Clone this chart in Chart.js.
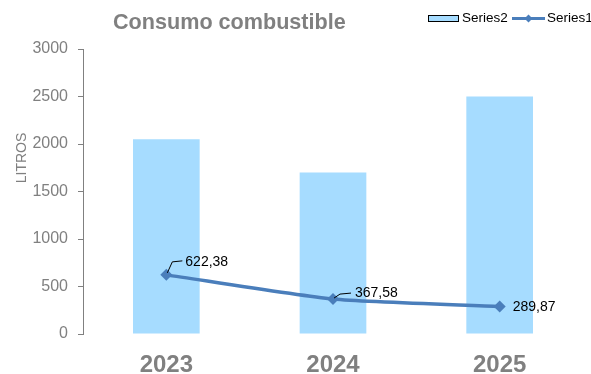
<!DOCTYPE html>
<html>
<head>
<meta charset="utf-8">
<script src="https://cdn.jsdelivr.net/npm/chart.js@4"></script>
<style>
  html, body { margin: 0; padding: 0; background: #fff; }
  #wrap { width: 591px; height: 374px; }
</style>
</head>
<body>
<div id="wrap"><canvas id="chart" width="591" height="374"></canvas></div>
<script>
const years = ["2023", "2024", "2025"];
const series2 = [2050, 1700, 2500];
const series1 = [622.38, 367.58, 289.87];
const yTicks = [0, 500, 1000, 1500, 2000, 2500, 3000];

const gray = "#808080";
const lineBlue = "#4A7EBB";
const barBlue = "#A6DCFF";
const font = "'Liberation Sans', Arial, sans-serif";

// title, axis title, legend, data labels with leader lines
const extras = {
  id: "extras",
  afterDraw(chart) {
    const ctx = chart.ctx;
    const meta = chart.getDatasetMeta(1);
    ctx.save();

    ctx.fillStyle = gray;
    ctx.font = "bold 21.6px " + font;
    ctx.textBaseline = "alphabetic";
    ctx.textAlign = "left";
    ctx.fillText("Consumo combustible", 113, 29);

    // y axis title
    ctx.save();
    ctx.translate(22, 158);
    ctx.rotate(-Math.PI / 2);
    ctx.textAlign = "center";
    ctx.textBaseline = "middle";
    ctx.font = "14px " + font;
    ctx.fillText("LITROS", 0, 0);
    ctx.restore();

    // legend
    ctx.fillStyle = barBlue;
    ctx.fillRect(428.5, 15.5, 30, 6);
    ctx.strokeStyle = "#000";
    ctx.lineWidth = 1;
    ctx.strokeRect(428.5, 15.5, 30, 6);
    ctx.fillStyle = "#000";
    ctx.font = "13.5px " + font;
    ctx.textBaseline = "middle";
    ctx.fillText("Series2", 462, 18.5);
    ctx.strokeStyle = lineBlue;
    ctx.lineWidth = 3;
    ctx.beginPath();
    ctx.moveTo(512, 18.5);
    ctx.lineTo(545, 18.5);
    ctx.stroke();
    ctx.fillStyle = lineBlue;
    ctx.beginPath();
    ctx.moveTo(528.5, 14.5);
    ctx.lineTo(532.5, 18.5);
    ctx.lineTo(528.5, 22.5);
    ctx.lineTo(524.5, 18.5);
    ctx.closePath();
    ctx.fill();
    ctx.fillStyle = "#000";
    ctx.fillText("Series1", 547, 18.5);

    // data labels
    ctx.font = "14px " + font;
    ctx.strokeStyle = "#000";
    ctx.lineWidth = 1;
    meta.data.forEach((pt, i) => {
      const label = series1[i].toFixed(2).replace(".", ",");
      const x = pt.x, y = pt.y;
      if (i === 0) {
        ctx.beginPath();
        ctx.moveTo(x + 1, y - 2);
        ctx.lineTo(x + 6, y - 13);
        ctx.lineTo(x + 16, y - 14);
        ctx.stroke();
        ctx.fillText(label, x + 19, y - 13);
      } else if (i === 1) {
        ctx.beginPath();
        ctx.moveTo(x + 1, y - 1);
        ctx.lineTo(x + 7, y - 5);
        ctx.lineTo(x + 18, y - 6);
        ctx.stroke();
        ctx.fillText(label, x + 22, y - 6);
      } else {
        ctx.fillText(label, x + 13, y + 1);
      }
    });
    ctx.restore();
  }
};

new Chart(document.getElementById("chart"), {
  data: {
    labels: years,
    datasets: [
      {
        type: "bar",
        label: "Series2",
        data: series2,
        backgroundColor: barBlue,
        borderWidth: 0,
        categoryPercentage: 1,
        barPercentage: 0.4,
        order: 2
      },
      {
        type: "line",
        label: "Series1",
        data: series1,
        borderColor: lineBlue,
        backgroundColor: lineBlue,
        borderWidth: 3.5,
        tension: 0.2,
        pointStyle: "rectRot",
        pointRadius: 6,
        pointBorderWidth: 0,
        order: 1
      }
    ]
  },
  options: {
    responsive: false,
    animation: false,
    layout: { padding: { top: 49, right: 8, left: 0, bottom: 0 } },
    plugins: {
      legend: { display: false },
      title: { display: false },
      tooltip: { enabled: false }
    },
    scales: {
      x: {
        offset: true,
        grid: { display: false, drawTicks: false },
        border: { display: false },
        ticks: {
          color: gray,
          padding: 17,
          font: { family: font, size: 24, weight: "bold" }
        },
        afterFit(scale) { scale.height = 40; }
      },
      y: {
        min: 0,
        max: 3000,
        afterBuildTicks(scale) { scale.ticks = yTicks.map(v => ({ value: v })); },
        grid: { display: true, drawOnChartArea: false, drawTicks: true, tickLength: 5, color: gray },
        border: { display: true, color: gray, width: 1 },
        ticks: {
          color: gray,
          padding: 10,
          font: { family: font, size: 16 },
          callback: v => String(v)
        },
        afterFit(scale) { scale.width = 83; }
      }
    }
  },
  plugins: [extras]
});
</script>
</body>
</html>
